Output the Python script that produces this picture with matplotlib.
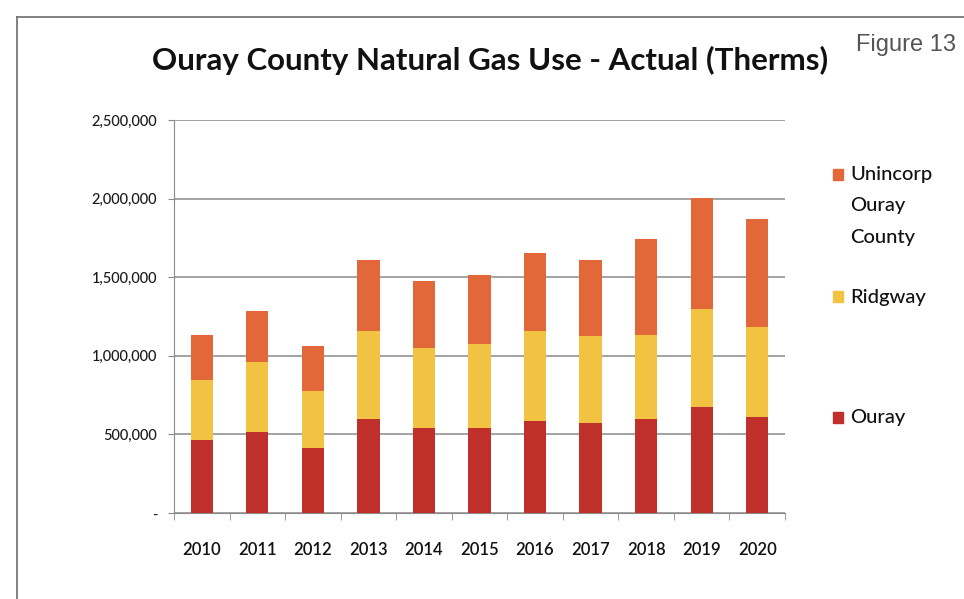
import numpy as np
import matplotlib
matplotlib.use("Agg")
import matplotlib.pyplot as plt
from matplotlib.patches import Rectangle
from matplotlib.lines import Line2D
from matplotlib.ticker import FuncFormatter

# values (therms), cumulative tops per year
years = ["2010", "2011", "2012", "2013", "2014", "2015",
         "2016", "2017", "2018", "2019", "2020"]
ouray = [464000, 517000, 411000, 596000, 543000, 543000,
         585000, 570000, 596000, 676000, 613000]
ridgway_top = [846000, 962000, 776000, 1158000, 1048000, 1073000,
               1160000, 1128000, 1132000, 1296000, 1185000]
total = [1132000, 1285000, 1064000, 1609000, 1478000, 1514000,
         1656000, 1607000, 1741000, 2005000, 1868000]

ridgway = [r - o for r, o in zip(ridgway_top, ouray)]
unincorp = [t - r for t, r in zip(total, ridgway_top)]

c_ouray = "#c0302a"
c_ridg = "#f2c243"
c_uninc = "#e2683a"

plt.rcParams['font.family'] = ['Lato', 'DejaVu Sans']

fig = plt.figure(figsize=(9.64, 5.99), dpi=100)
ax = fig.add_axes([174/964, 86/599, 611/964, 393/599])

x = np.arange(len(years))
w = 0.4
ax.bar(x, ouray, w, color=c_ouray, zorder=3)
ax.bar(x, ridgway, w, bottom=ouray, color=c_ridg, zorder=3)
ax.bar(x, unincorp, w, bottom=ridgway_top, color=c_uninc, zorder=3)

ax.set_xlim(-0.5, len(years) - 0.5)
ax.set_ylim(0, 2500000)
ax.set_yticks(np.arange(0, 2500001, 500000))
ax.yaxis.set_major_formatter(FuncFormatter(lambda v, p: "-" if v == 0 else f"{int(v):,}"))
ax.yaxis.grid(True, color="#8a8a8a", lw=1.1, zorder=0)
ax.tick_params(axis="y", length=4, color="#8a8a8a", labelsize=10.5, pad=8, labelcolor="#1a1a1a")
for lb in ax.get_yticklabels():
    lb.set_fontweight("medium")

ax.set_xticks(x)
ax.set_xticklabels(years, fontsize=12, color="#111111", weight="semibold")
ax.tick_params(axis="x", length=0, pad=21)
ax.set_xticks(np.arange(-0.5, len(years)), minor=True)
ax.tick_params(axis="x", which="minor", length=5, color="#8a8a8a", direction="out")

for s in ["top", "right"]:
    ax.spines[s].set_visible(False)
ax.spines["left"].set_color("#8a8a8a")
ax.spines["bottom"].set_color("#8a8a8a")

fig.text(490/964, 1 - 70/599, "Ouray County Natural Gas Use - Actual (Therms)",
         ha="center", va="baseline", fontsize=22.5, weight="bold", color="#111111")
fig.text(956/964, 1 - 51/599, "Figure 13", ha="right", va="baseline", fontsize=17,
         color="#555555", family=["Liberation Sans", "DejaVu Sans"])

# legend, placed like the Excel one
leg = [(c_uninc, ["Unincorp", "Ouray", "County"], 175),
       (c_ridg, ["Ridgway"], 297),
       (c_ouray, ["Ouray"], 418)]
for col, lines, ytop in leg:
    fig.patches.append(Rectangle((833/964, 1 - (ytop + 5)/599), 10/964, 11/599,
                                 transform=fig.transFigure, color=col))
    for i, t in enumerate(lines):
        fig.text(850/964, 1 - (ytop + 31*i)/599, t, ha="left", va="center",
                 fontsize=14.5, color="#111111", weight="medium")

# frame of the figure
fig.add_artist(Line2D([17/964, 17/964], [0, 1 - 17/599], color="#777777", lw=1.3))
fig.add_artist(Line2D([17/964, 1], [1 - 17/599, 1 - 17/599], color="#777777", lw=1.3))

fig.savefig("out.png", dpi=100)
